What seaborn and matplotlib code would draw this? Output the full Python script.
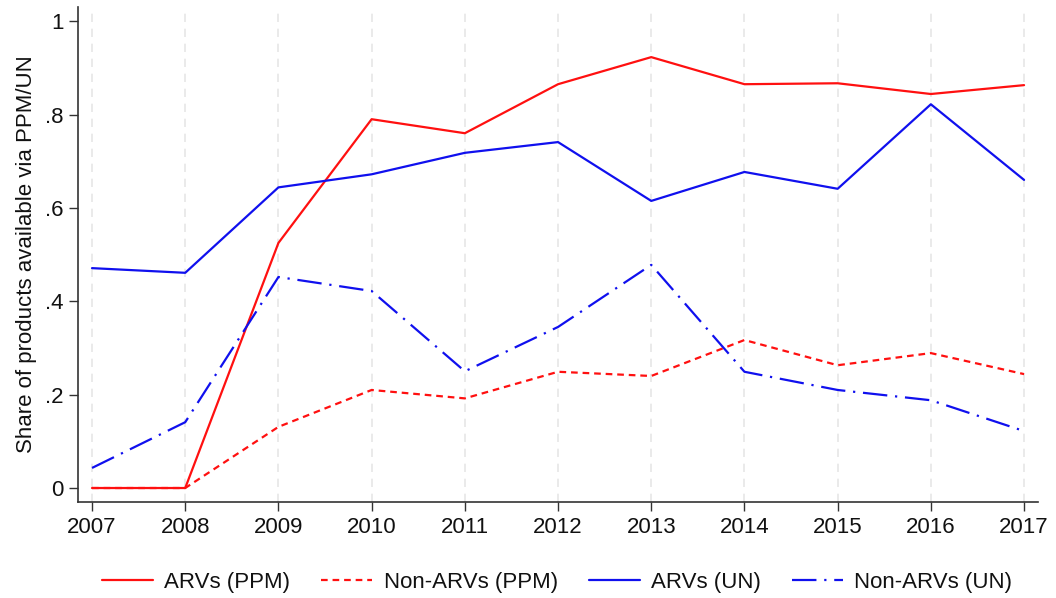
import numpy as np
import pandas as pd
import matplotlib
matplotlib.use("Agg")
import matplotlib.pyplot as plt
import seaborn as sns

years = [2007, 2008, 2009, 2010, 2011, 2012, 2013, 2014, 2015, 2016, 2017]
arv_ppm = [0.0, 0.0, 0.525, 0.79, 0.76, 0.865, 0.923, 0.865, 0.867, 0.844, 0.863]
nonarv_ppm = [0.0, 0.0, 0.131, 0.21, 0.192, 0.249, 0.240, 0.317, 0.263, 0.289, 0.244]
arv_un = [0.471, 0.461, 0.644, 0.672, 0.718, 0.741, 0.615, 0.677, 0.641, 0.822, 0.660]
nonarv_un = [0.043, 0.141, 0.452, 0.422, 0.25, 0.345, 0.478, 0.249, 0.21, 0.188, 0.122]

series_names = ["ARVs (PPM)", "Non-ARVs (PPM)", "ARVs (UN)", "Non-ARVs (UN)"]
ytick_vals = [0, 0.2, 0.4, 0.6, 0.8, 1.0]
ytick_labels = ["0", ".2", ".4", ".6", ".8", "1"]

df = pd.DataFrame({
    "year": years * 4,
    "share": arv_ppm + nonarv_ppm + arv_un + nonarv_un,
    "series": [n for n in series_names for _ in years],
})

sns.set_theme(style="white")
plt.rcParams["font.family"] = ["Liberation Sans", "DejaVu Sans"]
plt.rcParams["text.color"] = "#111111"
plt.rcParams["axes.labelcolor"] = "#111111"
plt.rcParams["xtick.color"] = "#111111"
plt.rcParams["ytick.color"] = "#111111"

fig = plt.figure(figsize=(10.56, 5.98), dpi=100)
ax = fig.add_axes([0.0739, 0.1605, 0.9091, 0.8275])

palette = {"ARVs (PPM)": "#ff1010", "Non-ARVs (PPM)": "#ff1010",
           "ARVs (UN)": "#1010ee", "Non-ARVs (UN)": "#1010ee"}
dashes = {"ARVs (PPM)": "", "Non-ARVs (PPM)": (3, 2.2),
          "ARVs (UN)": "", "Non-ARVs (UN)": (11, 3.5, 1, 3.5)}

for x in years:
    ax.axvline(x, color="#e6e6e6", lw=1.2, ls=(0, (5, 4)), zorder=0)

sns.lineplot(data=df, x="year", y="share", hue="series", style="series",
             hue_order=series_names, style_order=series_names,
             palette=palette, dashes=dashes, lw=1.6, ax=ax, legend=True)

ax.set_xlim(2006.85, 2017.15)
ax.set_ylim(-0.03, 1.03)
ax.set_xticks(years)
ax.set_xticklabels([str(y) for y in years], fontsize=16)
ax.set_yticks(ytick_vals)
ax.set_yticklabels(ytick_labels, fontsize=16)
ax.set_xlabel("")
ax.set_ylabel("Share of products available via PPM/UN", fontsize=16, labelpad=6)
ax.tick_params(axis="both", direction="out", length=6.5, width=1, color="#333333",
               bottom=True, left=True, pad=4)
for s in ["top", "right"]:
    ax.spines[s].set_visible(False)
for s in ["left", "bottom"]:
    ax.spines[s].set_color("#333333")
    ax.spines[s].set_linewidth(1.2)

handles, labels = ax.get_legend_handles_labels()
ax.legend(handles, labels, loc="upper center", bbox_to_anchor=(0.499, -0.10),
          ncol=4, frameon=False, fontsize=16, handlelength=2.3, handletextpad=0.5,
          columnspacing=1.4)

fig.savefig("out.png", dpi=100)
